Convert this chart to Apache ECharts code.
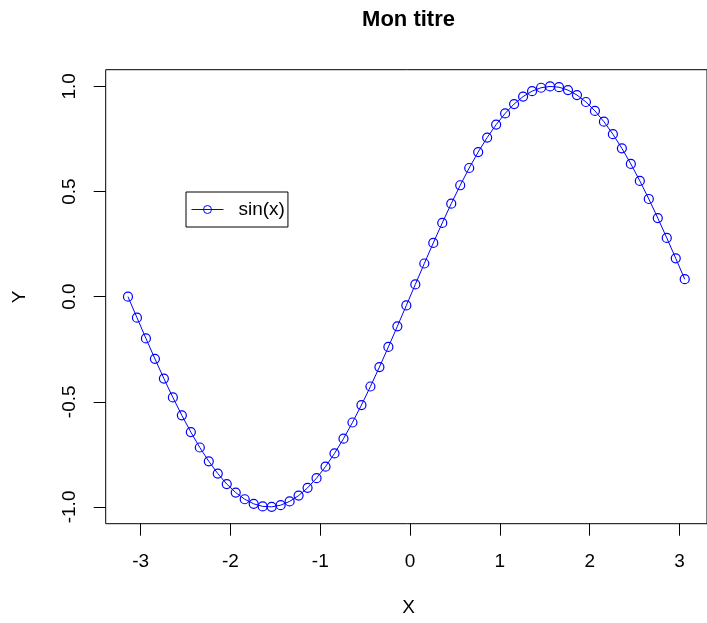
<!DOCTYPE html>
<html>
<head>
<meta charset="utf-8">
<script src="https://cdn.jsdelivr.net/npm/echarts@6/dist/echarts.min.js"></script>
<style>
html,body{margin:0;padding:0;background:#fff;}
#chart{width:707px;height:623px;}
</style>
</head>
<body>
<div id="chart"></div>
<script>
var titleText = 'Mon titre';
var xName = 'X';
var yName = 'Y';
var seriesName = 'sin(x)';
var xTicks = [-3, -2, -1, 0, 1, 2, 3];
var yTicks = [-1.0, -0.5, 0.0, 0.5, 1.0];
var xs = [-3.1416, -3.0416, -2.9416, -2.8416, -2.7416, -2.6416, -2.5416, -2.4416, -2.3416, -2.2416,
  -2.1416, -2.0416, -1.9416, -1.8416, -1.7416, -1.6416, -1.5416, -1.4416, -1.3416, -1.2416,
  -1.1416, -1.0416, -0.9416, -0.8416, -0.7416, -0.6416, -0.5416, -0.4416, -0.3416, -0.2416,
  -0.1416, -0.0416, 0.0584, 0.1584, 0.2584, 0.3584, 0.4584, 0.5584, 0.6584, 0.7584,
  0.8584, 0.9584, 1.0584, 1.1584, 1.2584, 1.3584, 1.4584, 1.5584, 1.6584, 1.7584,
  1.8584, 1.9584, 2.0584, 2.1584, 2.2584, 2.3584, 2.4584, 2.5584, 2.6584, 2.7584,
  2.8584, 2.9584, 3.0584];
var ys = [0, -0.0998, -0.1987, -0.2955, -0.3894, -0.4794, -0.5646, -0.6442, -0.7174, -0.7833,
  -0.8415, -0.8912, -0.9320, -0.9636, -0.9854, -0.9975, -0.9996, -0.9917, -0.9738, -0.9463,
  -0.9093, -0.8632, -0.8085, -0.7457, -0.6755, -0.5985, -0.5155, -0.4274, -0.3350, -0.2392,
  -0.1411, -0.0416, 0.0584, 0.1577, 0.2555, 0.3508, 0.4425, 0.5298, 0.6119, 0.6878,
  0.7568, 0.8183, 0.8716, 0.9162, 0.9516, 0.9775, 0.9937, 0.9999, 0.9962, 0.9825,
  0.9589, 0.9258, 0.8835, 0.8323, 0.7728, 0.7055, 0.6313, 0.5507, 0.4646, 0.3739,
  0.2794, 0.1822, 0.0831];

var data = xs.map(function (x, i) { return [x, ys[i]]; });
var FONT = '"Liberation Sans", Arial, Helvetica, sans-serif';

var chart = echarts.init(document.getElementById('chart'), null, {renderer: 'canvas'});
chart.setOption({
  animation: false,
  backgroundColor: '#ffffff',
  textStyle: {fontFamily: FONT},
  grid: {
    left: 105.7, top: 69.7, width: 605.5, height: 454,
    show: true, borderColor: '#000', borderWidth: 1, backgroundColor: 'transparent',
    containLabel: false
  },
  legend: {
    data: [seriesName],
    left: 186, top: 192,
    orient: 'vertical',
    backgroundColor: '#fff',
    borderColor: '#000', borderWidth: 1, borderRadius: 0,
    padding: [8, 3, 8, 5],
    itemWidth: 32, itemHeight: 10,
    lineStyle: {width: 1},
    itemStyle: {borderWidth: 1},
    textStyle: {fontFamily: FONT, fontSize: 19, color: '#000', padding: [0, 0, 0, 10]}
  },
  xAxis: {
    type: 'value',
    min: -3.3896, max: 3.3064,
    axisLine: {show: false, onZero: false},
    splitLine: {show: false},
    axisTick: {show: true, length: 12, inside: false, customValues: xTicks, lineStyle: {color: '#000', width: 1}},
    axisLabel: {show: true, customValues: xTicks, margin: 29, fontSize: 19, color: '#000', fontFamily: FONT,
      formatter: function (v) { return String(v); }}
  },
  yAxis: {
    type: 'value',
    min: -1.0799, max: 1.0795,
    axisLine: {show: false, onZero: false},
    splitLine: {show: false},
    axisTick: {show: true, length: 12, inside: false, customValues: yTicks, lineStyle: {color: '#000', width: 1}},
    axisLabel: {show: true, customValues: yTicks, margin: 26, rotate: 90, fontSize: 19, color: '#000', fontFamily: FONT,
      formatter: function (v) { return v.toFixed(1); }}
  },
  graphic: [
    {type: 'text', x: 408.5, y: 20, style: {text: titleText, font: 'bold 22px ' + FONT, fill: '#000', textAlign: 'center', textVerticalAlign: 'middle'}},
    {type: 'text', x: 408.5, y: 608, style: {text: xName, font: '19px ' + FONT, fill: '#000', textAlign: 'center', textVerticalAlign: 'middle'}},
    {type: 'text', x: 20, y: 297, rotation: Math.PI / 2, style: {text: yName, font: '19px ' + FONT, fill: '#000', textAlign: 'center', textVerticalAlign: 'middle'}}
  ],
  series: [{
    name: seriesName,
    type: 'line',
    data: data,
    symbol: 'circle',
    symbolSize: 9,
    showSymbol: true,
    lineStyle: {color: '#0000ff', width: 1},
    itemStyle: {color: 'rgba(255,255,255,0)', borderColor: '#0000ff', borderWidth: 1.2},
    emphasis: {disabled: true}
  }]
});
</script>
</body>
</html>
